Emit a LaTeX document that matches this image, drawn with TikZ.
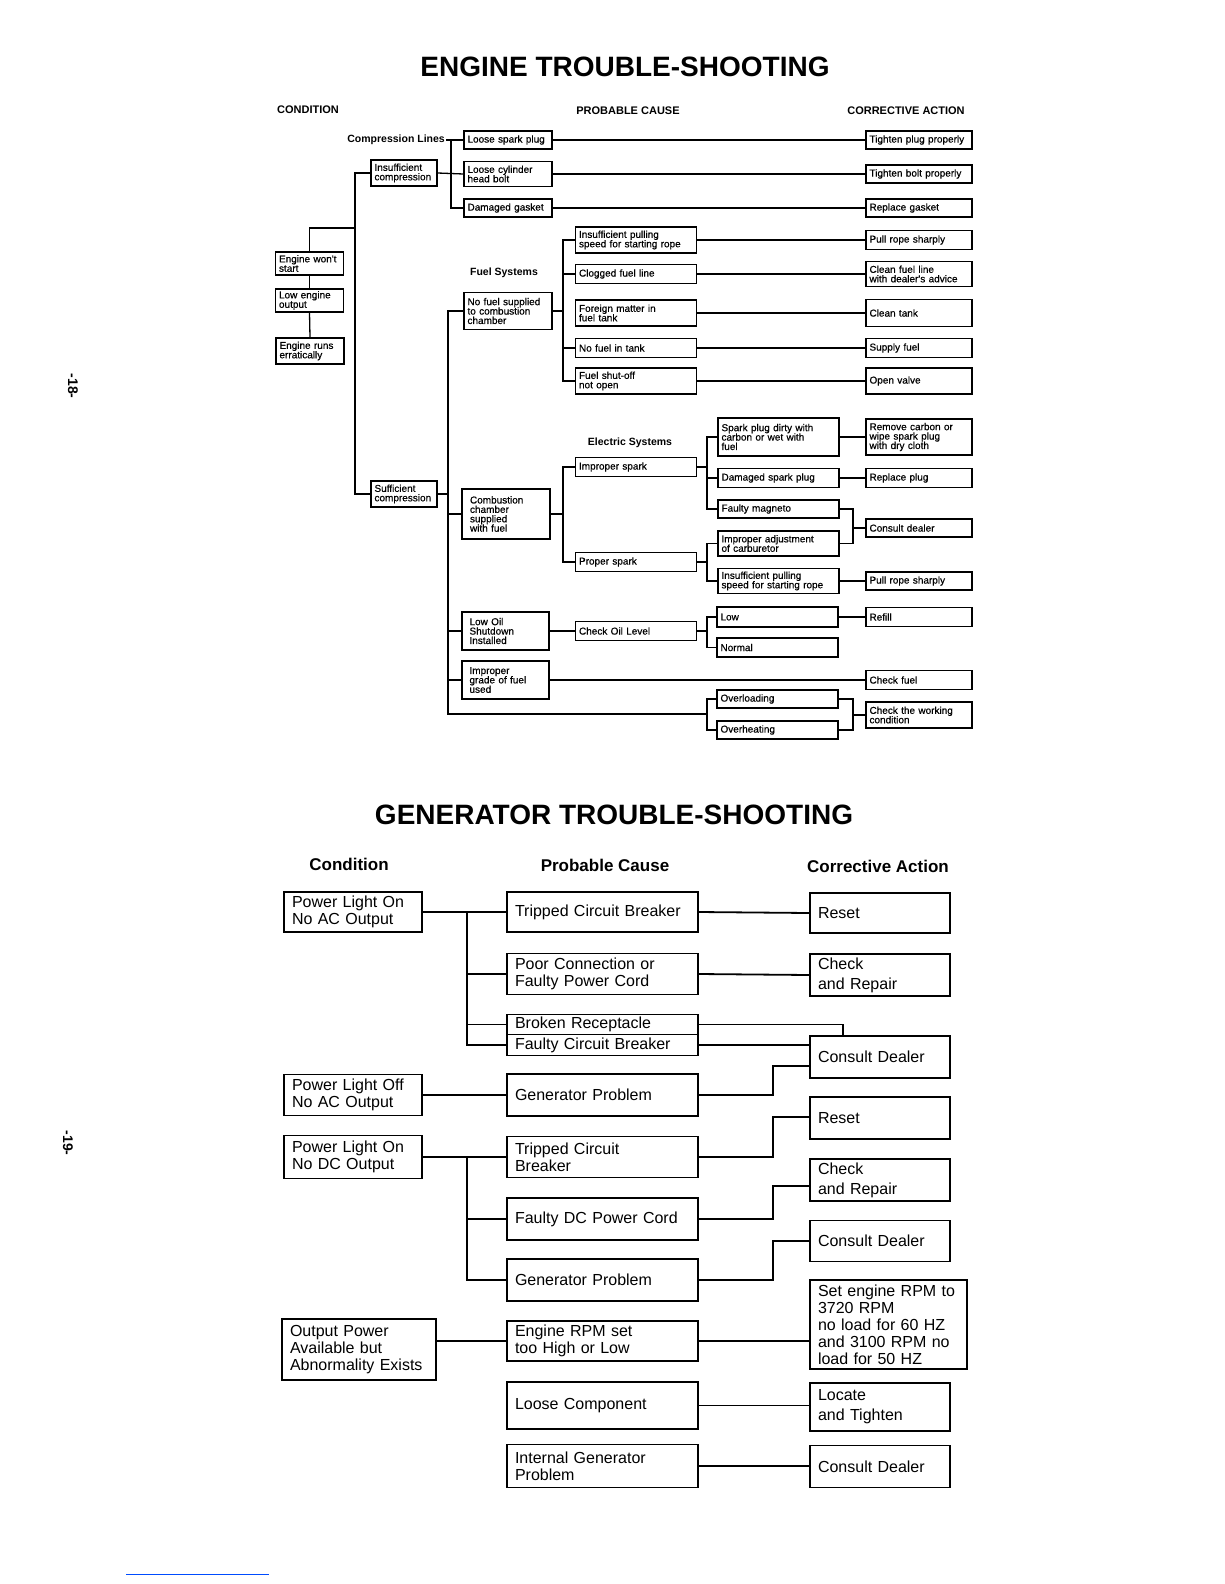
\documentclass[tikz,border=0pt]{standalone}
\usepackage{fontspec}
\setmainfont{Liberation Sans}
\newfontfamily\enginefam[FakeBold=0.5]{Liberation Sans}
\usetikzlibrary{positioning}
\newcommand{\efont}{\enginefam\fontsize{10}{9.4}\selectfont}
\newcommand{\gfont}{\fontsize{16}{17}\selectfont}

\begin{document}
\begin{tikzpicture}[x=1pt,y=-1pt,
  ebox/.style={draw,line width=1.3pt,inner xsep=3.5pt,inner ysep=0pt,align=left,font=\efont},
  econd/.style={ebox,text width=61pt},
  esmall/.style={ebox,text width=59pt},
  ecomp/.style={ebox,text width=81pt},
  ecause/.style={ebox,text width=114pt},
  eact/.style={ebox,text width=99pt},
  elabel/.style={font=\bfseries\fontsize{10.5}{12}\selectfont,inner sep=1pt},
  ehead/.style={font=\bfseries\fontsize{11}{12}\selectfont,inner sep=1pt},
  eline/.style={line width=1.3pt},
  gbox/.style={draw,line width=1.8pt,inner xsep=8pt,inner ysep=0pt,align=left,font=\gfont},
  gcond/.style={gbox,text width=122pt},
  gcause/.style={gbox,text width=175pt},
  gact/.style={gbox,text width=124pt},
  ghead/.style={font=\bfseries\fontsize{17}{18}\selectfont},
  gline/.style={line width=1.8pt},
  bigtitle/.style={font=\bfseries\fontsize{28}{30}\selectfont},
  pagenum/.style={font=\bfseries\fontsize{14}{14}\selectfont,rotate=-90}
]
\fill[white] (0,0) rectangle (1224,1584);

% engine
\node[bigtitle] (ttlengine) at (625,67) {ENGINE TROUBLE-SHOOTING};
\node[ehead,anchor=west] (hcond) at (276,110) {CONDITION};
\node[ehead] (hcause) at (628,111) {PROBABLE CAUSE};
\node[ehead] (hact) at (906,111) {CORRECTIVE ACTION};
\node[pagenum] (pg18) at (73,386) {-18-};

\node[econd,minimum height=23pt] (wontstart) at (309.5,263.5) {Engine won't\\start};
\node[econd,minimum height=23pt] (lowout) at (309.5,300.5) {Low engine\\output};
\node[econd,minimum height=26pt] (erratic) at (310,351) {Engine runs\\erratically};
\node[esmall,minimum height=26pt] (insuf) at (404,173) {Insufficient\\compression};
\node[esmall,minimum height=26pt] (suff) at (404,494) {Sufficient\\compression};

\node[elabel,anchor=east] (complines) at (446,140) {Compression Lines};
\node[ecomp,minimum height=18pt] (sparkplug) at (508,140) {Loose spark plug};
\node[ecomp,minimum height=25pt] (headbolt) at (508,174) {Loose cylinder\\head bolt};
\node[ecomp,minimum height=18pt] (gasket) at (508,208) {Damaged gasket};
\node[eact,minimum height=18pt] (tightplug) at (919,140) {Tighten plug properly};
\node[eact,minimum height=18pt] (tightbolt) at (919,174) {Tighten bolt properly};
\node[eact,minimum height=18pt] (repgasket) at (919,208) {Replace gasket};

\node[elabel] (fuelsys) at (504,273) {Fuel Systems};
\node[ecomp,minimum height=37pt] (nofuel) at (508,311) {No fuel supplied\\to combustion\\chamber};
\node[ecause,minimum height=26pt] (pulling) at (636,240) {Insufficient pulling\\speed for starting rope};
\node[ecause,minimum height=19pt] (clogged) at (636,274) {Clogged fuel line};
\node[ecause,minimum height=26pt] (foreign) at (636,313) {Foreign matter in\\fuel tank};
\node[ecause,minimum height=19pt] (notank) at (636,348) {No fuel in tank};
\node[ecause,minimum height=26pt] (shutoff) at (636,381) {Fuel shut-off\\not open};
\node[eact,minimum height=19pt] (pullrope) at (919,240) {Pull rope sharply};
\node[eact,minimum height=25pt] (cleanline) at (919,274) {Clean fuel line\\with dealer's advice};
\node[eact,minimum height=27pt] (cleantank) at (919,313) {Clean tank};
\node[eact,minimum height=19pt] (supply) at (919,348) {Supply fuel};
\node[eact,minimum height=26pt] (openvalve) at (919,381) {Open valve};

\node[elabel] (elecsys) at (630,443) {Electric Systems};
\node[ebox,text width=72pt,inner xsep=8pt,minimum height=50pt] (combust) at (506,514) {Combustion\\chamber\\supplied\\with fuel};
\node[ecause,minimum height=19pt] (impspark) at (636,467) {Improper spark};
\node[ecause,minimum height=19pt] (propspark) at (636,562) {Proper spark};
\node[ecause,minimum height=38pt] (dirty) at (778.5,437) {Spark plug dirty with\\carbon or wet with\\fuel};
\node[ecause,minimum height=19pt] (dampplug) at (778.5,478) {Damaged spark plug};
\node[ecause,minimum height=18pt] (magneto) at (778.5,509) {Faulty magneto};
\node[ecause,minimum height=25pt] (carb) at (778.5,543.5) {Improper adjustment\\of carburetor};
\node[ecause,minimum height=25pt] (pulling2) at (778.5,581) {Insufficient pulling\\speed for starting rope};
\node[eact,minimum height=36pt] (remcarbon) at (919,437) {Remove carbon or\\wipe spark plug\\with dry cloth};
\node[eact,minimum height=19pt] (repplug) at (919,478) {Replace plug};
\node[eact,minimum height=18pt] (consult) at (919,528) {Consult dealer};
\node[eact,minimum height=18pt] (pullrope2) at (919,581) {Pull rope sharply};

\node[ebox,text width=72pt,inner xsep=7.5pt,minimum height=38pt] (lowoil) at (505.5,631) {Low Oil\\Shutdown\\Installed};
\node[ebox,text width=72pt,inner xsep=7.5pt,minimum height=38pt] (grade) at (505.5,680) {Improper\\grade of fuel\\used};
\node[ecause,minimum height=19pt] (checkoil) at (636,631) {Check Oil Level};
\node[ecause,minimum height=20pt] (low) at (777.5,617) {Low};
\node[ecause,minimum height=19pt] (normal) at (777.5,647.5) {Normal};
\node[eact,minimum height=19pt] (refill) at (919,617) {Refill};
\node[eact,minimum height=19pt] (checkfuel) at (919,680) {Check fuel};
\node[ecause,minimum height=18pt] (overload) at (777.5,699) {Overloading};
\node[ecause,minimum height=18pt] (overheat) at (777.5,730) {Overheating};
\node[eact,minimum height=26pt] (working) at (919,715) {Check the working\\condition};

\coordinate (jstart) at (355,228);
\coordinate (trunka) at (355,300);
\coordinate (cbr) at (451,174);
\coordinate (fbr) at (563,313);
\coordinate (trunkb) at (448,500);
\coordinate (obr) at (707,714);
\coordinate (obr2) at (853,715);
\coordinate (ebr) at (563,514);
\coordinate (ebr2) at (707,467);
\coordinate (ebr3) at (707,562);
\coordinate (ebr4) at (853,528);
\coordinate (obr3) at (707,631);

\begin{scope}[eline]
\draw (wontstart.north) |- (jstart);
\draw (wontstart.south) -- (lowout.north);
\draw (lowout.south) -- (erratic.north);
\draw (insuf.west) -| (trunka) |- (suff.west);
\draw (insuf.east) -- (headbolt.west);
\draw (complines.east) -- (sparkplug.west);
\draw (sparkplug.west -| cbr) |- (gasket.west);
\draw (sparkplug.east) -- (tightplug.west);
\draw (headbolt.east) -- (tightbolt.west);
\draw (gasket.east) -- (repgasket.west);

\draw (nofuel.west) -| (trunkb) |- (obr);
\draw (suff.east) -- (suff.east -| trunkb);
\draw (combust.west) -- (combust.west -| trunkb);
\draw (lowoil.west) -- (lowoil.west -| trunkb);
\draw (grade.west) -- (grade.west -| trunkb);
\draw (nofuel.east) -- (nofuel.east -| fbr);
\draw (pulling.west) -| (fbr) |- (shutoff.west);
\draw (clogged.west) -- (clogged.west -| fbr);
\draw (notank.west) -- (notank.west -| fbr);
\draw (pulling.east) -- (pullrope.west);
\draw (clogged.east) -- (cleanline.west);
\draw (foreign.east) -- (cleantank.west);
\draw (notank.east) -- (supply.west);
\draw (shutoff.east) -- (openvalve.west);

\draw (combust.east) -- (ebr);
\draw (impspark.west) -| (ebr) |- (propspark.west);
\draw (impspark.east) -- (ebr2);
\draw (dirty.west) -| (ebr2) |- (magneto.west);
\draw (dampplug.west) -- (dampplug.west -| ebr2);
\draw (propspark.east) -- (ebr3);
\draw (carb.west) -| (ebr3) |- (pulling2.west);
\draw (magneto.east) -| (ebr4) |- (carb.east);
\draw (ebr4) -- (consult.west);
\draw (dirty.east) -- (remcarbon.west);
\draw (dampplug.east) -- (repplug.west);
\draw (pulling2.east) -- (pullrope2.west);

\draw (lowoil.east) -- (checkoil.west);
\draw (checkoil.east) -- (obr3);
\draw (low.west) -| (obr3) |- (normal.west);
\draw (low.east) -- (refill.west);
\draw (grade.east) -- (checkfuel.west);
\draw (overload.west) -| (obr) |- (overheat.west);
\draw (overload.east) -| (obr2) |- (overheat.east);
\draw (obr2) -- (working.west);
\end{scope}

% generator
\node[bigtitle] (ttlgen) at (614,815) {GENERATOR TROUBLE-SHOOTING};
\node[ghead] (gcondh) at (349,864) {Condition};
\node[ghead] (gcauseh) at (605,865) {Probable Cause};
\node[ghead] (gacth) at (878,866) {Corrective Action};
\node[pagenum] (pg19) at (68,1143) {-19-};

\node[gcond,minimum height=40pt] (acon) at (353,912) {Power Light On\\No AC Output};
\node[gcond,minimum height=41pt] (acoff) at (353,1095) {Power Light Off\\No AC Output};
\node[gcond,minimum height=43pt] (dcon) at (353,1157) {Power Light On\\No DC Output};
\node[gbox,text width=138pt,minimum height=61pt] (abnormal) at (359,1349.5) {Output Power\\Available but\\Abnormality Exists};

\node[gcause,minimum height=40pt] (tripped) at (602.5,912) {Tripped Circuit Breaker};
\node[gcause,minimum height=41pt] (poorconn) at (602.5,974) {Poor Connection or\\Faulty Power Cord};
\node[gcause,minimum height=20pt] (receptacle) at (602.5,1024.5) {Broken Receptacle};
\node[gcause,minimum height=21pt] (faultycb) at (602.5,1045) {Faulty Circuit Breaker};
\node[gcause,minimum height=42pt] (genprobac) at (602.5,1095) {Generator Problem};
\node[gcause,minimum height=41pt] (tripped2) at (602.5,1157) {Tripped Circuit\\Breaker};
\node[gcause,minimum height=42pt] (dccord) at (602.5,1219) {Faulty DC Power Cord};
\node[gcause,minimum height=42pt] (genprobdc) at (602.5,1280) {Generator Problem};
\node[gcause,minimum height=40pt] (rpmset) at (602.5,1341) {Engine RPM set\\too High or Low};
\node[gcause,minimum height=47pt] (loose) at (602.5,1405.5) {Loose Component};
\node[gcause,minimum height=43pt] (internal) at (602.5,1466) {Internal Generator\\Problem};

\node[gact,minimum height=40pt] (reset) at (880,913) {Reset};
\node[gact,minimum height=42pt] (repair) at (880,975) {Check\\[3pt]and Repair};
\node[gact,minimum height=42pt] (dealer) at (880,1057) {Consult Dealer};
\node[gact,minimum height=42pt] (reset2) at (880,1118) {Reset};
\node[gact,minimum height=42pt] (repair2) at (880,1180) {Check\\[3pt]and Repair};
\node[gact,minimum height=41pt] (dealer2) at (880,1241) {Consult Dealer};
\node[gbox,text width=141pt,minimum height=89pt] (setrpm) at (888.5,1324.5) {Set engine RPM to\\3720 RPM\\no load for 60 HZ\\and 3100 RPM no\\load for 50 HZ};
\node[gact,minimum height=48pt] (tighten) at (880,1407) {Locate\\[3pt]and Tighten};
\node[gact,minimum height=42pt] (dealer3) at (880,1466.5) {Consult Dealer};

\coordinate (gac) at (467,912);
\coordinate (gbr) at (843,1037);
\coordinate (gacr) at (773,1066);
\coordinate (gdc) at (467,1157);
\coordinate (gdc1) at (773,1117);
\coordinate (gdc2) at (773,1186);
\coordinate (gdc3) at (773,1241);

\begin{scope}[gline]
\draw (acon.east) -- (tripped.west);
\draw (gac) |- (faultycb.west);
\draw (poorconn.west) -- (poorconn.west -| gac);
\draw (receptacle.west) -- (receptacle.west -| gac);
\draw (tripped.east) -- (reset.west);
\draw (poorconn.east) -- (repair.west);
\draw (receptacle.east) -| (gbr);
\draw (faultycb.east) -- (faultycb.east -| dealer.west);
\draw (acoff.east) -- (genprobac.west);
\draw (genprobac.east) -| (gacr) -- (gacr -| dealer.west);

\draw (dcon.east) -- (tripped2.west);
\draw (gdc) |- (genprobdc.west);
\draw (dccord.west) -- (dccord.west -| gdc);
\draw (tripped2.east) -| (gdc1) -- (gdc1 -| reset2.west);
\draw (dccord.east) -| (gdc2) -- (gdc2 -| repair2.west);
\draw (genprobdc.east) -| (gdc3) -- (gdc3 -| dealer2.west);

\draw (abnormal.east |- rpmset.west) -- (rpmset.west);
\draw (rpmset.east) -- (rpmset.east -| setrpm.west);
\draw (loose.east) -- (loose.east -| tighten.west);
\draw (internal.east) -- (internal.east -| dealer3.west);
\end{scope}

\draw[line width=0.8pt,blue!70!cyan] (126,1574) -- (269,1574);
\end{tikzpicture}
\end{document}
